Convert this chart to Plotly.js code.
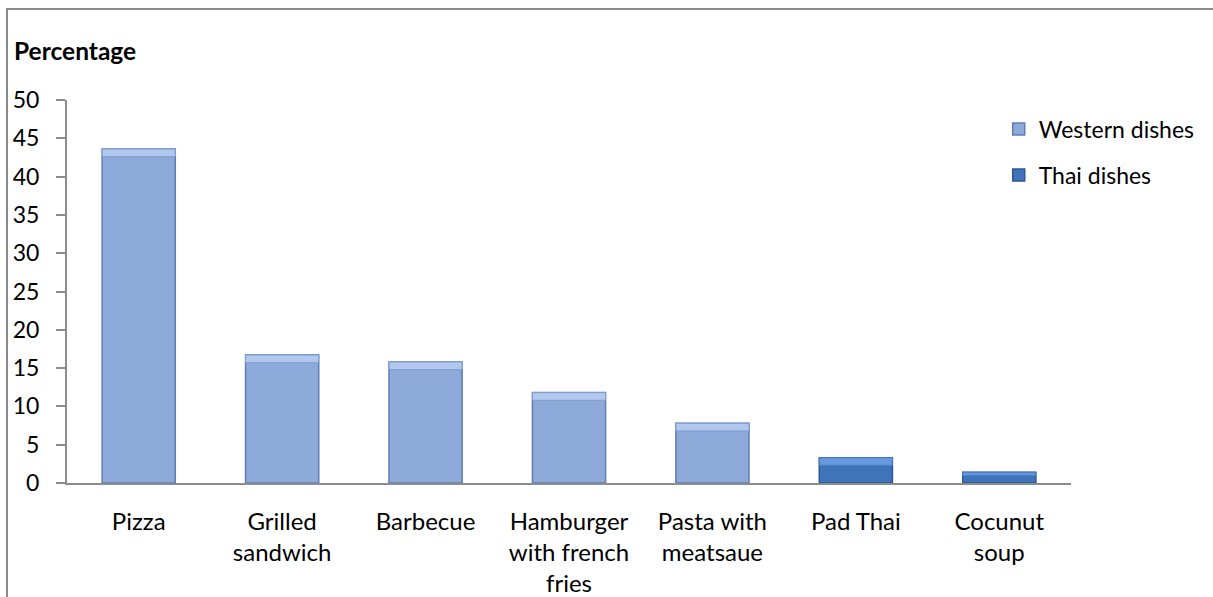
<!DOCTYPE html>
<html>
<head>
<meta charset="utf-8">
<script src="https://cdn.plot.ly/plotly-3.0.1.min.js"></script>
<style>
  html, body { margin: 0; padding: 0; background: #ffffff; overflow: hidden; }
  #frame { position: absolute; left: 6px; top: 8px; width: 1400px; height: 800px;
           border-left: 2px solid #8a8a8a; border-top: 2px solid #8a8a8a; pointer-events: none; z-index: 2; }
  #chart { position: absolute; left: 0; top: 0; width: 1213px; height: 597px; }
</style>
</head>
<body>
<div id="chart"></div>
<div id="frame"></div>
<script>
// ---- data ----
const categories = ["Pizza", "Grilled<br>sandwich", "Barbecue", "Hamburger<br>with french<br>fries",
                    "Pasta with<br>meatsaue", "Pad Thai", "Cocunut<br>soup"];
const westernDishes = ["Pizza", "Grilled<br>sandwich", "Barbecue", "Hamburger<br>with french<br>fries",
                       "Pasta with<br>meatsaue"];
const westernValues = [43.6, 16.7, 15.8, 11.8, 7.8];
const thaiDishes = ["Pad Thai", "Cocunut<br>soup"];
const thaiValues = [3.3, 1.4];
const seriesNames = ["Western dishes", "Thai dishes"];
const yTicks = [0, 5, 10, 15, 20, 25, 30, 35, 40, 45, 50];

const font = "Lato, 'Open Sans', sans-serif";

// bevel highlight band on top of each bar (style only, derived from the values)
function bevelBase(vals) { return vals.map(v => v - Math.min(1.0, v * 0.3)); }
function bevelHeight(vals) { return vals.map(v => Math.min(1.0, v * 0.3)); }

const traces = [
  {
    type: "bar", name: seriesNames[0], x: westernDishes, y: westernValues,
    legendgroup: "w",
    marker: { color: "#8eaadb", line: { color: "#607db2", width: 1.5 } },
    hoverinfo: "x+y"
  },
  {
    type: "bar", name: seriesNames[0], x: westernDishes, y: bevelHeight(westernValues),
    base: bevelBase(westernValues), showlegend: false, legendgroup: "w",
    marker: { color: "#b3c8ee", line: { color: "#7f9bcf", width: 1 } },
    hoverinfo: "skip"
  },
  {
    type: "bar", name: seriesNames[1], x: thaiDishes, y: thaiValues,
    legendgroup: "t",
    marker: { color: "#3f74bb", line: { color: "#2b5796", width: 1.5 } },
    hoverinfo: "x+y"
  },
  {
    type: "bar", name: seriesNames[1], x: thaiDishes, y: bevelHeight(thaiValues),
    base: bevelBase(thaiValues), showlegend: false, legendgroup: "t",
    marker: { color: "#6698dc", line: { color: "#4a7fc6", width: 1 } },
    hoverinfo: "skip"
  }
];

const layout = {
  width: 1213, height: 597,
  margin: { l: 67, r: 142, t: 100, b: 114, pad: 0, autoexpand: false },
  paper_bgcolor: "#ffffff", plot_bgcolor: "#ffffff",
  font: { family: font, size: 23, color: "#000000" },
  barmode: "overlay",
  bargap: 0.49,
  showlegend: true,
  legend: {
    x: 0.928, y: 0.98, xanchor: "left", yanchor: "top",
    font: { family: font, size: 23, color: "#000000" },
    bgcolor: "rgba(0,0,0,0)", itemwidth: 30,
    traceorder: "grouped", tracegroupgap: 13
  },
  xaxis: {
    type: "category", categoryorder: "array", categoryarray: categories,
    showline: true, linecolor: "#8c8c8c", linewidth: 2,
    ticks: "", showgrid: false, zeroline: false,
    tickfont: { family: font, size: 24, color: "#000000" },
    ticklabelstandoff: 16, fixedrange: true
  },
  yaxis: {
    range: [0, 50], tickvals: yTicks, ticktext: yTicks.map(String),
    showline: true, linecolor: "#8c8c8c", linewidth: 2,
    ticks: "outside", ticklen: 9, tickcolor: "#8c8c8c", tickwidth: 2,
    showgrid: false, zeroline: false,
    tickfont: { family: font, size: 23, color: "#000000" },
    ticklabelstandoff: 12, fixedrange: true
  },
  annotations: [
    {
      text: "<b>Percentage</b>", xref: "paper", yref: "paper",
      x: -0.055, y: 1.13, xanchor: "left", yanchor: "middle",
      showarrow: false, font: { family: font, size: 24.5, color: "#000000" }
    }
  ]
};

Plotly.newPlot("chart", traces, layout, { displayModeBar: false, staticPlot: true });
</script>
</body>
</html>
